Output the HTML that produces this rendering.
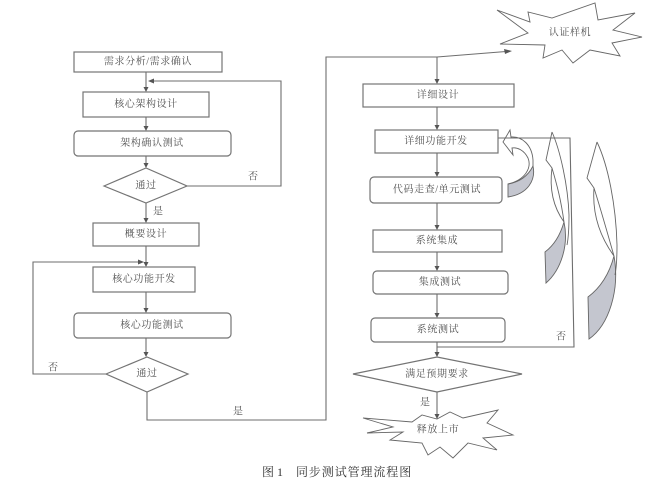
<!DOCTYPE html>
<html><head><meta charset="utf-8"><style>
html,body{margin:0;padding:0;background:#fff;}
svg{display:block;}
text{font-family:"Liberation Serif","Noto Serif CJK SC","Noto Sans CJK SC",serif;fill:#505050;}
.t{font-size:10px;letter-spacing:0.6px;text-anchor:middle;dominant-baseline:central;}
.l{font-size:10px;dominant-baseline:central;}
.b{fill:none;stroke:#747474;stroke-width:1.2;}
.ln{fill:none;stroke:#6e6e6e;stroke-width:1.1;}
.ah{fill:#555;stroke:none;}
.c{fill:none;stroke:#666;stroke-width:0.9;}
.g{fill:#c4c6cf;stroke:#666;stroke-width:0.9;}
</style></head><body>
<svg width="665" height="481" viewBox="0 0 665 481" xmlns="http://www.w3.org/2000/svg">
<!-- LEFT COLUMN -->
<rect class="b" x="74" y="52" width="148" height="20"/>
<text class="t" x="148" y="62">需求分析/需求确认</text>
<line class="ln" x1="146" y1="72" x2="146" y2="89"/>
<polygon class="ah" points="143.5,87 148.5,87 146,92"/>
<rect class="b" x="83" y="92" width="126" height="25"/>
<text class="t" x="146" y="104.5">核心架构设计</text>
<line class="ln" x1="146" y1="117" x2="146" y2="128"/>
<polygon class="ah" points="143.5,126 148.5,126 146,131"/>
<rect class="b" x="74" y="131" width="157" height="25" rx="4"/>
<text class="t" x="152" y="143.5">架构确认测试</text>
<line class="ln" x1="146" y1="156" x2="146" y2="165"/>
<polygon class="ah" points="143.5,163 148.5,163 146,168"/>
<polygon class="b" points="104,186 146,168 187,186 146,203"/>
<text class="t" x="146" y="186">通过</text>
<polyline class="ln" points="187,186 281,186 281,81 152,81"/>
<polygon class="ah" points="154,78.5 154,83.5 148,81"/>
<text class="l" x="248" y="177">否</text>
<line class="ln" x1="146" y1="203" x2="146" y2="220"/>
<polygon class="ah" points="143.5,218 148.5,218 146,223"/>
<text class="l" x="153" y="212">是</text>
<rect class="b" x="93" y="223" width="106" height="23"/>
<text class="t" x="146" y="234.5">概要设计</text>
<line class="ln" x1="146" y1="246" x2="146" y2="264"/>
<polygon class="ah" points="143.5,262 148.5,262 146,267"/>
<rect class="b" x="93" y="267" width="102" height="25"/>
<text class="t" x="144" y="279.5">核心功能开发</text>
<line class="ln" x1="146" y1="292" x2="146" y2="310"/>
<polygon class="ah" points="143.5,308 148.5,308 146,313"/>
<rect class="b" x="74" y="313" width="157" height="25" rx="4"/>
<text class="t" x="152" y="325.5">核心功能测试</text>
<line class="ln" x1="146" y1="338" x2="146" y2="354"/>
<polygon class="ah" points="143.5,352 148.5,352 146,357"/>
<polygon class="b" points="106,374 147,357 188,374 147,392"/>
<text class="t" x="147" y="374">通过</text>
<polyline class="ln" points="106,374 33,374 33,262 140,262"/>
<polygon class="ah" points="138,259.5 138,264.5 144,262"/>
<text class="l" x="48" y="368">否</text>
<polyline class="ln" points="147,392 147,420 326,420 326,57 437,57 506,51.5"/>
<polygon class="ah" points="504,49 505,54 512,51"/>
<text class="l" x="233" y="412">是</text>

<!-- STAR top -->
<polygon class="c" points="497,10 530,22 528,12 552,18 595,3 598,20 635,13 613,30 642,37 612,43 620,56 590,50 573,63 562,50 543,58 545,45 500,44 528,33"/>
<text class="t" x="570" y="33">认证样机</text>

<!-- RIGHT COLUMN -->
<line class="ln" x1="437" y1="57" x2="437" y2="81"/>
<polygon class="ah" points="434.5,79 439.5,79 437,84"/>
<rect class="b" x="363" y="84" width="151" height="23"/>
<text class="t" x="438" y="95.5">详细设计</text>
<line class="ln" x1="437" y1="107" x2="437" y2="127"/>
<polygon class="ah" points="434.5,125 439.5,125 437,130"/>
<rect class="b" x="375" y="130" width="123" height="23"/>
<text class="t" x="436" y="141.5">详细功能开发</text>
<line class="ln" x1="437" y1="153" x2="437" y2="174"/>
<polygon class="ah" points="434.5,172 439.5,172 437,177"/>
<rect class="b" x="370" y="177" width="132" height="26" rx="4"/>
<text class="t" x="437" y="190">代码走查/单元测试</text>
<line class="ln" x1="437" y1="203" x2="437" y2="227"/>
<polygon class="ah" points="434.5,225 439.5,225 437,230"/>
<rect class="b" x="373" y="230" width="129" height="22"/>
<text class="t" x="437" y="241">系统集成</text>
<line class="ln" x1="437" y1="252" x2="437" y2="268"/>
<polygon class="ah" points="434.5,266 439.5,266 437,271"/>
<rect class="b" x="373" y="271" width="135" height="23" rx="4"/>
<text class="t" x="440" y="282.5">集成测试</text>
<line class="ln" x1="437" y1="294" x2="437" y2="315"/>
<polygon class="ah" points="434.5,313 439.5,313 437,318"/>
<rect class="b" x="371" y="318" width="134" height="24" rx="4"/>
<text class="t" x="438" y="330">系统测试</text>
<line class="ln" x1="437" y1="342" x2="437" y2="354"/>
<polygon class="ah" points="434.5,352 439.5,352 437,357"/>
<polyline class="ln" points="437,347 574,347 570,138 498,138"/>
<text class="l" x="556" y="337">否</text>
<polygon class="b" points="353,374 437,357 522,374 437,392"/>
<text class="t" x="437" y="374.5">满足预期要求</text>
<line class="ln" x1="437" y1="392" x2="437" y2="416"/>
<polygon class="ah" points="434.5,414 439.5,414 437,419"/>
<text class="l" x="420" y="403">是</text>

<!-- STAR bottom -->
<polygon class="c" points="363,418 412,422 422,415 437,419 450,412 463,418 498,410 487,423 513,435 483,438 497,450 468,443 453,458 440,447 428,455 422,443 390,440 403,432 367,433 393,427"/>
<text class="t" x="438" y="430">释放上市</text>

<!-- small curved arrow -->
<path class="g" d="M508,184 C520,182 528,176 533,166 C536,180 528,194 508,197 Z"/>
<path class="c" d="M508,184 C525,180 532,168 528,158 C524,150 517,147 512,148 L513,155 L503,142 L510,130 L511,137 C522,136 532,145 533,160 L533,166"/>
<!-- tall arrow 1 -->
<path class="g" d="M545,252 C553,246 560,236 564,222 C569,245 561,270 546,283 Z"/>
<path class="c" d="M552,132 L546,160 L552,168 C549,190 554,208 564,222 M552,132 C560,150 568,185 569,215 C569,232 568,240 567,245 M552,168 C557,185 561,200 564,222"/>
<!-- tall arrow 2 -->
<path class="g" d="M588,297 C600,288 609,275 614,256 C620,290 609,325 589,339 Z"/>
<path class="c" d="M597,142 L587,178 L594,188 C592,215 601,238 614,256 M597,142 C608,165 616,205 617,245 C617,262 616,270 615,275 M594,188 C601,210 608,235 614,256"/>

<!-- caption -->
<text x="262" y="476" style="font-size:12px;fill:#333;">图 1</text>
<text x="296" y="476" style="font-size:12px;letter-spacing:0.9px;fill:#333;">同步测试管理流程图</text>
</svg>
</body></html>
